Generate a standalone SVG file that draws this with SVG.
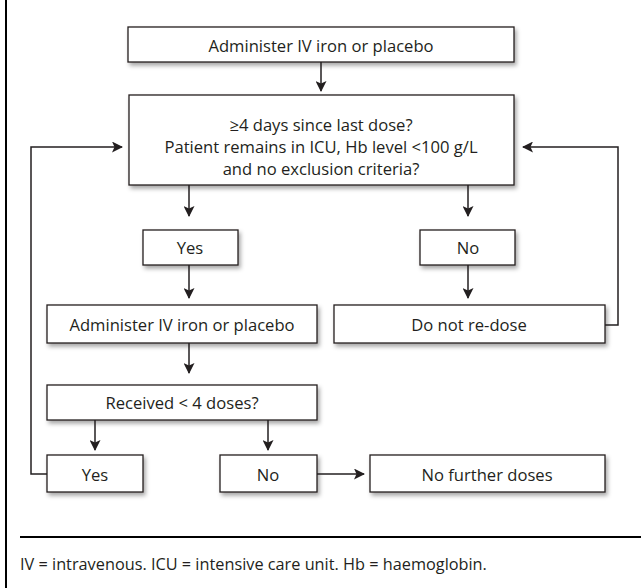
<svg xmlns="http://www.w3.org/2000/svg" width="641" height="588" viewBox="0 0 641 588">
<defs>
<filter id="sh" x="-10%" y="-20%" width="130%" height="160%">
<feDropShadow dx="2" dy="3" stdDeviation="2" flood-color="#000" flood-opacity="0.35"/>
</filter>
<marker id="ah" markerWidth="11" markerHeight="11" refX="10" refY="5.5" orient="auto" markerUnits="userSpaceOnUse">
<path d="M0,0 L11,5.5 L0,11 L2.5,5.5 z" fill="#231f20"/>
</marker>
<style>
.box{fill:#fff;stroke:#231f20;stroke-width:1.3;filter:url(#sh)}
.t{font-family:"Open Sans","Liberation Sans",sans-serif;font-size:16.6px;fill:#231f20;text-anchor:middle;dominant-baseline:central}
.c{fill:none;stroke:#231f20;stroke-width:1.5}
.a{marker-end:url(#ah)}
</style>
</defs>
<rect width="641" height="588" fill="#fff"/>
<line x1="6" y1="0" x2="6" y2="588" stroke="#000" stroke-width="2"/>
<line x1="20" y1="537" x2="641" y2="537" stroke="#000" stroke-width="2"/>

<g id="n1"><rect class="box" x="128" y="27" width="386" height="35"/><text class="t" x="321" y="45">Administer IV iron or placebo</text></g>
<g id="n2"><rect class="box" x="129" y="95" width="385" height="90"/>
<text class="t" x="321" y="124">≥4 days since last dose?</text>
<text class="t" x="321" y="146">Patient remains in ICU, Hb level &lt;100 g/L</text>
<text class="t" x="321" y="168">and no exclusion criteria?</text></g>
<g id="n3"><rect class="box" x="143" y="230" width="95" height="35"/><text class="t" x="190" y="247">Yes</text></g>
<g id="n4"><rect class="box" x="420" y="230" width="95" height="35"/><text class="t" x="468" y="247">No</text></g>
<g id="n5"><rect class="box" x="47" y="305" width="270" height="38"/><text class="t" x="182" y="324">Administer IV iron or placebo</text></g>
<g id="n6"><rect class="box" x="334" y="305" width="271" height="38"/><text class="t" x="469" y="324">Do not re-dose</text></g>
<g id="n7"><rect class="box" x="47" y="385" width="270" height="35"/><text class="t" x="182" y="402">Received &lt; 4 doses?</text></g>
<g id="n8"><rect class="box" x="47" y="455" width="96" height="37"/><text class="t" x="95" y="474">Yes</text></g>
<g id="n9"><rect class="box" x="220" y="455" width="97" height="37"/><text class="t" x="268" y="474">No</text></g>
<g id="n10"><rect class="box" x="370" y="455" width="235" height="37"/><text class="t" x="487" y="474">No further doses</text></g>

<g id="connectors">
<line class="c a" x1="321" y1="62" x2="321" y2="91"/>
<line class="c a" x1="189" y1="185" x2="189" y2="216"/>
<line class="c a" x1="468" y1="185" x2="468" y2="216"/>
<line class="c a" x1="189" y1="265" x2="189" y2="298"/>
<line class="c a" x1="468" y1="265" x2="468" y2="298"/>
<line class="c a" x1="189" y1="343" x2="189" y2="373"/>
<line class="c a" x1="95" y1="420" x2="95" y2="450"/>
<line class="c a" x1="268" y1="420" x2="268" y2="450"/>
<line class="c a" x1="317" y1="474" x2="364" y2="474"/>
<polyline class="c a" points="47,474 31,474 31,147 122,147"/>
<polyline class="c a" points="605,325 618,325 618,147 523,147"/>
</g>
<text x="20" y="564" style="font-family:'Open Sans','Liberation Sans',sans-serif;font-size:16.3px;fill:#231f20;dominant-baseline:central">IV = intravenous. ICU = intensive care unit. Hb = haemoglobin.</text>
</svg>
